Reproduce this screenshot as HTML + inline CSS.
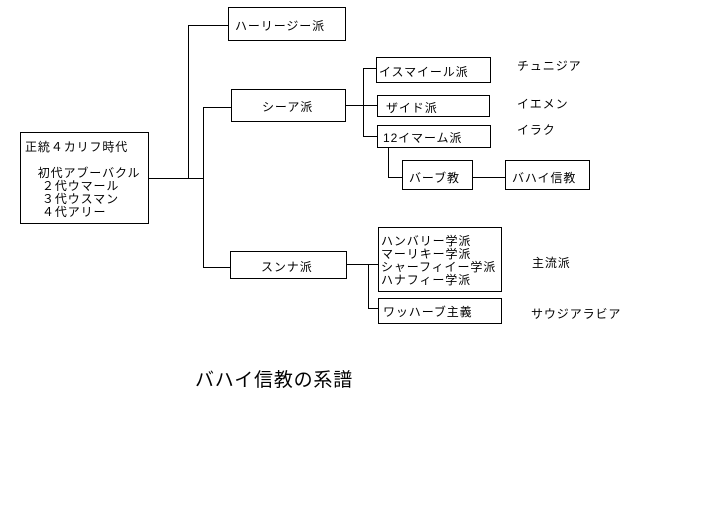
<!DOCTYPE html>
<html><head><meta charset="utf-8"><style>
body{margin:0;width:723px;height:530px;background:#fff;position:relative;overflow:hidden;font-family:"Liberation Sans","Noto Sans CJK JP",sans-serif;font-size:12px;color:#000;letter-spacing:0.9px}
.b{position:absolute;border:1px solid #000;box-sizing:border-box;background:#fff;white-space:nowrap}
.h{position:absolute;height:1px;background:#000}
.v{position:absolute;width:1px;background:#000}
.t{position:absolute;white-space:nowrap;line-height:14px}
</style></head><body>
<div class="h" style="left:148px;top:178px;width:55px"></div>
<div class="v" style="left:188px;top:25px;height:154px"></div>
<div class="h" style="left:188px;top:25px;width:40px"></div>
<div class="v" style="left:203px;top:107px;height:161px"></div>
<div class="h" style="left:203px;top:107px;width:28px"></div>
<div class="h" style="left:203px;top:267px;width:28px"></div>
<div class="h" style="left:345px;top:105px;width:32px"></div>
<div class="v" style="left:363px;top:68px;height:69px"></div>
<div class="h" style="left:363px;top:68px;width:14px"></div>
<div class="h" style="left:363px;top:136px;width:14px"></div>
<div class="v" style="left:388px;top:147px;height:31px"></div>
<div class="h" style="left:388px;top:177px;width:14px"></div>
<div class="h" style="left:472px;top:177px;width:33px"></div>
<div class="h" style="left:346px;top:264px;width:32px"></div>
<div class="v" style="left:368px;top:264px;height:45px"></div>
<div class="h" style="left:368px;top:308px;width:10px"></div>

<div class="b" style="left:20px;top:132px;width:129px;height:92px;padding:8px 0 0 4px;line-height:13px">正統４カリフ時代<br><br>&nbsp;&nbsp;&nbsp;初代アブーバクル<br>&nbsp;&nbsp;&nbsp;&nbsp;２代ウマール<br>&nbsp;&nbsp;&nbsp;&nbsp;３代ウスマン<br>&nbsp;&nbsp;&nbsp;&nbsp;４代アリー</div>
<div class="b" style="left:228px;top:7px;width:118px;height:34px;padding:9px 0 0 6px">ハーリージー派</div>
<div class="b" style="left:231px;top:89px;width:115px;height:33px;padding:8px 0 0 30px">シーア派</div>
<div class="b" style="left:230px;top:251px;width:117px;height:28px;padding:6px 0 0 30px">スンナ派</div>
<div class="b" style="left:376px;top:57px;width:115px;height:26px;padding:5px 0 0 2px">イスマイール派</div>
<div class="b" style="left:377px;top:95px;width:113px;height:22px;padding:3px 0 0 8px">ザイド派</div>
<div class="b" style="left:377px;top:125px;width:114px;height:23px;padding:3px 0 0 5px">12イマーム派</div>
<div class="b" style="left:402px;top:160px;width:71px;height:30px;padding:8px 0 0 6px">バーブ教</div>
<div class="b" style="left:505px;top:160px;width:85px;height:30px;padding:8px 0 0 6px">バハイ信教</div>
<div class="b" style="left:378px;top:227px;width:124px;height:65px;padding:7px 0 0 2px;line-height:13px">ハンバリー学派<br>マーリキー学派<br>シャーフィイー学派<br>ハナフィー学派</div>
<div class="b" style="left:378px;top:298px;width:124px;height:26px;padding:4px 0 0 4px">ワッハーブ主義</div>

<div class="t" style="left:517px;top:59px">チュニジア</div>
<div class="t" style="left:517px;top:97px">イエメン</div>
<div class="t" style="left:517px;top:123px">イラク</div>
<div class="t" style="left:532px;top:256px">主流派</div>
<div class="t" style="left:531px;top:307px">サウジアラビア</div>
<div class="t" style="left:195px;top:370px;font-size:19px;line-height:22px;letter-spacing:0.8px">バハイ信教の系譜</div>
</body></html>
